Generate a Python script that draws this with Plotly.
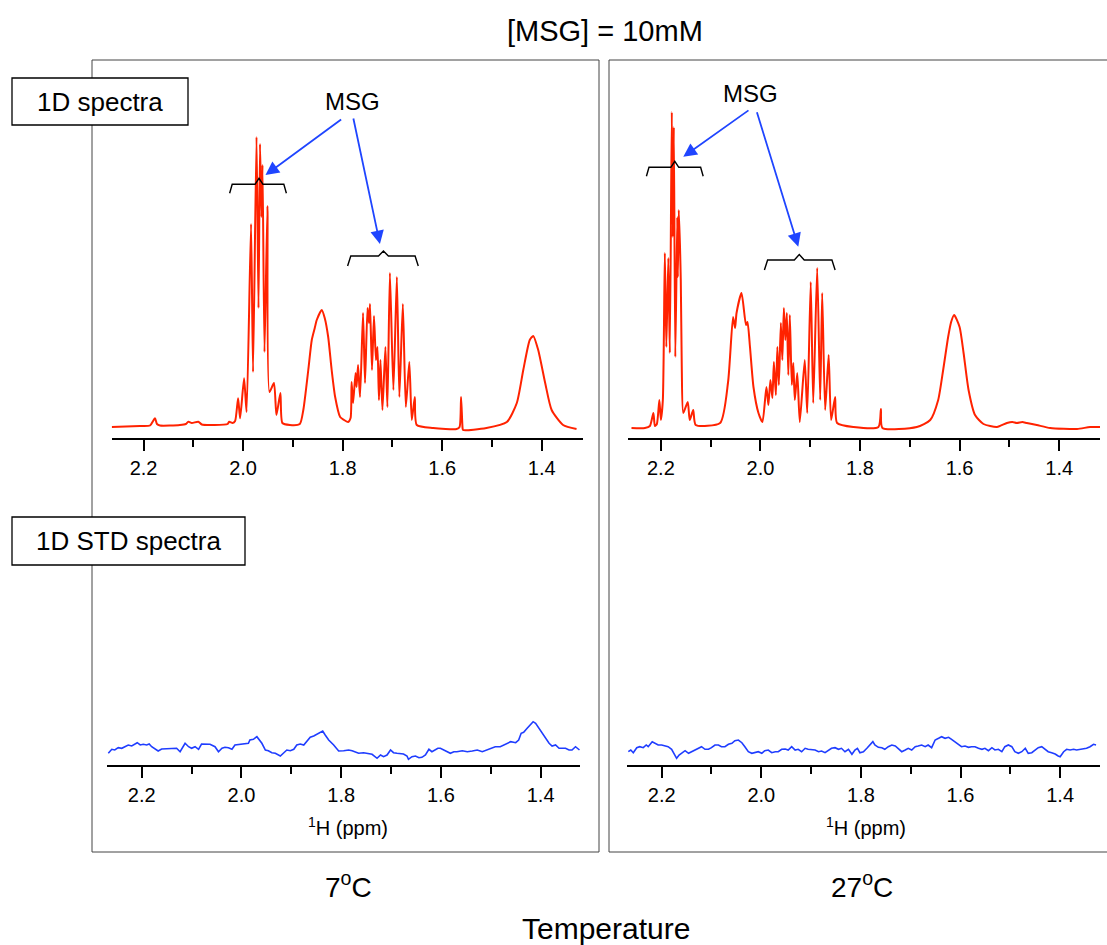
import plotly.graph_objects as go

# ---------------- data ----------------
# 1D 1H spectrum at 7 oC (ppm, intensity a.u.)
ppm_1d_7C = [2.264, 2.207, 2.187, 2.177, 2.173, 2.167, 2.127, 2.115, 2.110, 2.103,
             2.090, 2.083, 2.057, 2.031, 2.028, 2.021, 2.016, 2.010, 2.006, 1.998,
             1.993, 1.984, 1.980, 1.973, 1.969, 1.966, 1.963, 1.961, 1.957, 1.951,
             1.947, 1.938, 1.933, 1.925, 1.921, 1.906, 1.886, 1.879, 1.869, 1.862,
             1.856, 1.852, 1.842, 1.836, 1.829, 1.822, 1.815, 1.805, 1.797, 1.789,
             1.784, 1.782, 1.779, 1.774, 1.772, 1.769, 1.765, 1.759, 1.755, 1.750,
             1.747, 1.745, 1.741, 1.737, 1.733, 1.730, 1.727, 1.724, 1.720, 1.714,
             1.710, 1.705, 1.698, 1.691, 1.686, 1.679, 1.673, 1.666, 1.661, 1.655,
             1.651, 1.618, 1.571, 1.565, 1.562, 1.559, 1.558, 1.511, 1.470, 1.450,
             1.437, 1.424, 1.417, 1.407, 1.393, 1.380, 1.357, 1.330]
int_1d_7C = [0, 1, 1.5, 8.7, 3, 1.5, 2, 3, 5.3, 4,
             5.3, 2.5, 2, 3, 5.3, 4, 6, 28.7, 8.7, 48.7,
             15, 203, 55, 290, 119, 283, 210, 262, 75, 221,
             35, 44, 12, 34, 4, 2, 3, 17, 57, 87,
             99, 107, 117, 109, 90, 57, 30, 10, 7, 5,
             9, 45, 24, 54, 40, 62, 30, 114, 44, 119,
             104, 123, 57, 111, 67, 80, 27, 67, 17, 80,
             20, 154, 37, 150, 30, 123, 20, 65, 7, 30,
             2, -1, -2, 0, 30, -1, -3, -1, 5, 24,
             57, 87, 91, 77, 44, 17, 2, -2]

# 1D 1H spectrum at 27 oC
ppm_1d_27C = [2.259, 2.232, 2.222, 2.215, 2.212, 2.208, 2.203, 2.200, 2.196, 2.192,
              2.189, 2.185, 2.182, 2.178, 2.176, 2.174, 2.171, 2.167, 2.166, 2.164,
              2.160, 2.158, 2.155, 2.146, 2.142, 2.135, 2.130, 2.081, 2.065, 2.055,
              2.051, 2.048, 2.038, 2.029, 2.026, 2.021, 2.014, 2.004, 1.996, 1.988,
              1.984, 1.980, 1.976, 1.973, 1.969, 1.966, 1.963, 1.959, 1.956, 1.953,
              1.950, 1.947, 1.944, 1.941, 1.937, 1.934, 1.931, 1.926, 1.921, 1.911,
              1.906, 1.899, 1.894, 1.886, 1.880, 1.876, 1.870, 1.863, 1.858, 1.850,
              1.846, 1.813, 1.763, 1.758, 1.755, 1.686, 1.659, 1.643, 1.633, 1.623,
              1.617, 1.611, 1.600, 1.592, 1.582, 1.569, 1.552, 1.525, 1.505, 1.494,
              1.485, 1.474, 1.465, 1.445, 1.418, 1.364, 1.338, 1.314]
int_1d_27C = [-1, -1, 1, 14, 1, 3, 27, 7, 27, 174,
              80, 169, 74, 315, 190, 300, 70, 210, 150, 217,
              147, 60, 14, 25, 7, 17, 2, 4, 45, 110,
              99, 114, 134, 102, 105, 80, 40, 14, 5, 40,
              22, 47, 29, 65, 32, 80, 42, 104, 67, 119,
              87, 114, 52, 112, 42, 64, 27, 54, 5, 67,
              14, 145, 24, 159, 27, 134, 17, 72, 7, 30,
              4, 0, 0, 18, -1, 0, 7, 27, 57, 90,
              105, 112, 100, 74, 37, 12, 3, 0, 4, 5,
              4, 5, 4, 2, -1, -2, 0, 0]

# 1D STD spectrum at 7 oC
ppm_std_7C = [2.267, 2.260, 2.254, 2.247, 2.240, 2.233, 2.227, 2.220, 2.213, 2.209,
              2.203, 2.197, 2.190, 2.185, 2.180, 2.173, 2.167, 2.160, 2.150, 2.140,
              2.130, 2.123, 2.116, 2.113, 2.106, 2.100, 2.093, 2.086, 2.080, 2.073,
              2.063, 2.053, 2.046, 2.039, 2.033, 2.026, 2.019, 2.013, 2.003, 1.993,
              1.986, 1.983, 1.976, 1.969, 1.964, 1.959, 1.952, 1.946, 1.939, 1.932,
              1.922, 1.916, 1.909, 1.902, 1.895, 1.889, 1.882, 1.875, 1.869, 1.862,
              1.855, 1.849, 1.842, 1.837, 1.832, 1.825, 1.815, 1.805, 1.795, 1.785,
              1.778, 1.772, 1.765, 1.755, 1.748, 1.738, 1.728, 1.721, 1.715, 1.708,
              1.701, 1.695, 1.688, 1.681, 1.675, 1.668, 1.665, 1.658, 1.651, 1.644,
              1.638, 1.631, 1.624, 1.618, 1.611, 1.606, 1.601, 1.594, 1.588, 1.581,
              1.574, 1.568, 1.557, 1.547, 1.537, 1.527, 1.517, 1.507, 1.501, 1.491,
              1.481, 1.474, 1.467, 1.460, 1.450, 1.444, 1.439, 1.434, 1.427, 1.420,
              1.415, 1.410, 1.403, 1.397, 1.390, 1.383, 1.377, 1.370, 1.363, 1.357,
              1.350, 1.343, 1.337, 1.330, 1.325, 1.322]
int_std_7C = [11.7, 15.7, 15, 17.3, 16.7, 18.3, 20, 19, 21, 22.3,
              20, 20.7, 20, 21, 18.3, 15.7, 14, 16, 16.3, 16.3,
              16.7, 13.3, 20, 21.7, 18.3, 16.7, 18.3, 15.7, 21, 20.7,
              20.7, 18.3, 13.3, 16.7, 17.7, 17.3, 15.7, 20, 20.7, 21,
              21.7, 25, 25.7, 28.3, 25, 21.7, 15, 14.3, 12.3, 11.7,
              9, 11.7, 15, 14.3, 15.7, 20, 21, 20, 23.3, 27.7,
              29, 30.7, 32.3, 34, 30, 25, 20, 14, 14.3, 15,
              14.3, 13.3, 11.7, 12.3, 11.7, 10.7, 6.7, 10, 8.3, 10,
              15, 12.3, 11.7, 11.7, 11, 9, 5.7, 8.3, 9, 7.3,
              7.7, 10, 15.7, 13.3, 15, 16.7, 16.7, 15, 13.3, 11.7,
              13.3, 13.3, 14.3, 13.3, 14, 15, 13.3, 15, 16.7, 18.3,
              18.3, 20, 21.7, 23.3, 22.3, 25, 31.7, 32.7, 36.7, 40,
              43.3, 41.7, 36.7, 31.7, 26.7, 21.7, 19, 20, 16.7, 16.7,
              16.7, 15, 15, 18.3, 15.7, 15]

# 1D STD spectrum at 27 oC
ppm_std_27C = [2.267, 2.262, 2.257, 2.250, 2.244, 2.237, 2.231, 2.227, 2.219, 2.213,
               2.207, 2.200, 2.193, 2.187, 2.180, 2.175, 2.170, 2.165, 2.160, 2.153,
               2.146, 2.140, 2.133, 2.126, 2.120, 2.113, 2.106, 2.100, 2.093, 2.086,
               2.080, 2.073, 2.066, 2.059, 2.053, 2.046, 2.039, 2.033, 2.026, 2.019,
               2.013, 2.006, 1.999, 1.993, 1.986, 1.979, 1.972, 1.966, 1.959, 1.952,
               1.946, 1.939, 1.932, 1.926, 1.919, 1.912, 1.906, 1.899, 1.892, 1.885,
               1.879, 1.872, 1.865, 1.859, 1.852, 1.845, 1.839, 1.832, 1.825, 1.818,
               1.812, 1.807, 1.802, 1.795, 1.788, 1.782, 1.776, 1.772, 1.765, 1.758,
               1.752, 1.745, 1.738, 1.731, 1.725, 1.718, 1.711, 1.705, 1.698, 1.691,
               1.685, 1.678, 1.671, 1.665, 1.658, 1.651, 1.644, 1.638, 1.631, 1.624,
               1.618, 1.611, 1.604, 1.598, 1.591, 1.584, 1.578, 1.571, 1.564, 1.557,
               1.551, 1.544, 1.537, 1.531, 1.524, 1.517, 1.511, 1.504, 1.497, 1.491,
               1.484, 1.477, 1.470, 1.464, 1.457, 1.450, 1.444, 1.437, 1.430, 1.424,
               1.417, 1.410, 1.404, 1.400, 1.393, 1.387, 1.380, 1.373, 1.367, 1.360,
               1.353, 1.347, 1.340, 1.333, 1.328]
int_std_27C = [13.3, 15, 12.3, 17.3, 18.3, 17.3, 20, 18.3, 23.3, 21.7,
               20, 20, 19, 18.3, 15.7, 11.7, 6.7, 10, 11.7, 14.3,
               11.7, 13.3, 15, 17.3, 18.3, 15.7, 15.7, 17.3, 20, 20,
               18.3, 18.3, 20.7, 21.7, 24.3, 25, 22.3, 18.3, 13.3, 11.7,
               12.3, 13.3, 11.7, 14.3, 15, 12.3, 13.3, 13.3, 15.7, 16,
               15, 18.3, 15, 15.7, 13.3, 16.7, 15.7, 15.7, 15, 13.3,
               14, 12.3, 14.3, 16.7, 17.3, 15.7, 16.7, 13.3, 15.7, 10.7,
               15, 16.7, 12.3, 13.3, 16.7, 20, 23.3, 20, 17.7, 17.3,
               15.7, 18.3, 20, 19, 16.7, 13.3, 15, 16.7, 15, 18.3,
               19, 20, 18.3, 20, 17.3, 25, 26.7, 28.3, 26.7, 27.7,
               25.7, 23.3, 20.7, 18.3, 19, 17.7, 18.3, 18.3, 16.7, 15.7,
               16.7, 14.3, 17.3, 15, 15.7, 13.3, 18.3, 20, 18.3, 13.3,
               11.7, 13.3, 16.7, 11.7, 12.3, 15, 17.3, 18.3, 15.7, 13.3,
               12.3, 11, 9, 8.3, 13.3, 15.7, 15, 15.7, 15, 15.7,
               16.7, 16.7, 18.3, 20.7, 20]

tick_labels = ["2.2", "2.0", "1.8", "1.6", "1.4"]
tick_vals = [2.2, 2.0, 1.8, 1.6, 1.4]
temperatures = ["7<sup>o</sup>C", "27<sup>o</sup>C"]

# ---------------- figure ----------------
W, H = 1107, 945
def px(x):
    return x / W
def py(y):
    return 1 - y / H

FONT = "Arial, 'Liberation Sans', sans-serif"
RED = "#ff2200"
BLUE = "#1f3dff"
ARROW = "#1f45ff"

fig = go.Figure()
fig.add_trace(go.Scatter(x=ppm_1d_7C, y=int_1d_7C, xaxis="x", yaxis="y", mode="lines",
                         line=dict(color=RED, width=2, shape="spline", smoothing=0.6),
                         hoverinfo="skip"))
fig.add_trace(go.Scatter(x=ppm_1d_27C, y=int_1d_27C, xaxis="x2", yaxis="y2", mode="lines",
                         line=dict(color=RED, width=2, shape="spline", smoothing=0.6),
                         hoverinfo="skip"))
fig.add_trace(go.Scatter(x=ppm_std_7C, y=int_std_7C, xaxis="x3", yaxis="y3", mode="lines",
                         line=dict(color=BLUE, width=1.6), hoverinfo="skip"))
fig.add_trace(go.Scatter(x=ppm_std_27C, y=int_std_27C, xaxis="x4", yaxis="y4", mode="lines",
                         line=dict(color=BLUE, width=1.6), hoverinfo="skip"))


def xaxis(domain, rng, anchor):
    return dict(domain=domain, range=rng, anchor=anchor, showline=True, linecolor="black",
                linewidth=2, ticks="outside", ticklen=11, tickwidth=1.5, tickcolor="black",
                tickmode="array", tickvals=tick_vals, ticktext=tick_labels,
                tickfont=dict(family=FONT, size=20, color="black"), showgrid=False,
                zeroline=False, fixedrange=True,
                minor=dict(tickmode="array", tickvals=[2.1, 1.9, 1.7, 1.5], ticks="outside",
                           ticklen=7, tickwidth=1.5, tickcolor="black", showgrid=False))


def yaxis(domain, rng, anchor):
    return dict(domain=domain, range=rng, anchor=anchor, visible=False, showgrid=False,
                zeroline=False, fixedrange=True)


top_dom = [py(438), py(70)]
bot_dom = [py(765), py(600)]

fig.update_layout(
    width=W, height=H,
    margin=dict(l=0, r=0, t=0, b=0),
    paper_bgcolor="white", plot_bgcolor="rgba(0,0,0,0)",
    showlegend=False,
    font=dict(family=FONT, color="black"),
    xaxis=xaxis([px(111.7), px(583)], [2.264, 1.317], "y"),
    yaxis=yaxis(top_dom, [-11, 357], "x"),
    xaxis2=xaxis([px(628), px(1100)], [2.266, 1.318], "y2"),
    yaxis2=yaxis(top_dom, [-11, 357], "x2"),
    xaxis3=xaxis([px(107.3), px(580)], [2.269, 1.321], "y3"),
    yaxis3=yaxis(bot_dom, [0, 165], "x3"),
    xaxis4=xaxis([px(627.3), px(1100)], [2.269, 1.320], "y4"),
    yaxis4=yaxis(bot_dom, [0, 165], "x4"),
)

shapes = []
# panel frames
shapes.append(dict(type="rect", xref="paper", yref="paper", x0=px(92), x1=px(599),
                   y0=py(852), y1=py(60), line=dict(color="#444", width=1), layer="below"))
shapes.append(dict(type="rect", xref="paper", yref="paper", x0=px(609), x1=1.02,
                   y0=py(852), y1=py(60), line=dict(color="#444", width=1), layer="below"))
# label boxes
shapes.append(dict(type="rect", xref="paper", yref="paper", x0=px(12), x1=px(188),
                   y0=py(125), y1=py(78), line=dict(color="black", width=1.3),
                   fillcolor="white", layer="above"))
shapes.append(dict(type="rect", xref="paper", yref="paper", x0=px(12), x1=px(245),
                   y0=py(565), y1=py(517), line=dict(color="black", width=1.3),
                   fillcolor="white", layer="above"))


def bracket(xr, yr, left, right, centre, level, tip, drop):
    # curly-brace style bracket spanning a multiplet
    span = abs(left - right)
    e = span * 0.045
    c = span * 0.07
    path = (f"M {left},{level - drop} L {left - e},{level} "
            f"L {centre + c},{level} L {centre},{level + tip} L {centre - c},{level} "
            f"L {right + e},{level} L {right},{level - drop}")
    return dict(type="path", xref=xr, yref=yr, path=path,
                line=dict(color="black", width=1.4), layer="above")


shapes.append(bracket("x", "y", 2.027, 1.913, 1.968, 242.7, 6, 9))
shapes.append(bracket("x", "y", 1.790, 1.648, 1.718, 171, 5, 10))
shapes.append(bracket("x2", "y2", 2.229, 2.115, 2.172, 259.7, 6, 9))
shapes.append(bracket("x2", "y2", 1.992, 1.850, 1.922, 167, 5.5, 10))
fig.update_layout(shapes=shapes)

ann = []
def text(x, y, s, size, xref="paper", yref="paper"):
    ann.append(dict(x=x, y=y, xref=xref, yref=yref, text=s, showarrow=False,
                    font=dict(family=FONT, size=size, color="black"),
                    xanchor="center", yanchor="middle"))

text(px(605), py(31), "[MSG] = 10mM", 29)
text(px(100), py(102), "1D spectra", 26)
text(px(128), py(541), "1D STD spectra", 26)
text(px(348), py(885), temperatures[0], 28)
text(px(862), py(885), temperatures[1], 28)
text(px(606), py(928), "Temperature", 30)
text(px(348), py(826), "<sup>1</sup>H (ppm)", 20)
text(px(866), py(826), "<sup>1</sup>H (ppm)", 20)
text(1.781, 326, "MSG", 24, "x", "y")
text(2.020, 334, "MSG", 24, "x2", "y2")


def arrow(xr, yr, x, y, ax, ay):
    ann.append(dict(x=x, y=y, ax=ax, ay=ay, xref=xr, yref=yr, axref=xr, ayref=yr,
                    text="", showarrow=True, arrowhead=2, arrowsize=1.5, arrowwidth=1.8,
                    arrowcolor=ARROW, standoff=0, startstandoff=0))

arrow("x", "y", 1.955, 252, 1.800, 308.7)
arrow("x", "y", 1.725, 183, 1.779, 310)
arrow("x2", "y2", 2.155, 270.3, 2.021, 317.7)
arrow("x2", "y2", 1.924, 180.3, 2.008, 316.3)

fig.update_layout(annotations=ann)

fig.write_html("out.html")
